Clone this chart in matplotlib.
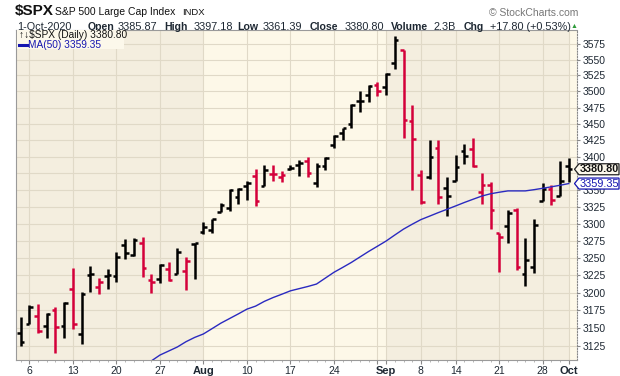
import numpy as np
import matplotlib.pyplot as plt
from matplotlib.patches import Polygon, Rectangle
from matplotlib.lines import Line2D
from matplotlib.ticker import FixedLocator, NullLocator, FuncFormatter

plt.rcParams['font.family'] = ['Liberation Sans', 'DejaVu Sans']

# daily bars, 2-Jul-2020 .. 1-Oct-2020
dates = ["2020-07-02", "2020-07-06", "2020-07-07", "2020-07-08", "2020-07-09", "2020-07-10",
         "2020-07-13", "2020-07-14", "2020-07-15", "2020-07-16", "2020-07-17",
         "2020-07-20", "2020-07-21", "2020-07-22", "2020-07-23", "2020-07-24",
         "2020-07-27", "2020-07-28", "2020-07-29", "2020-07-30", "2020-07-31",
         "2020-08-03", "2020-08-04", "2020-08-05", "2020-08-06", "2020-08-07",
         "2020-08-10", "2020-08-11", "2020-08-12", "2020-08-13", "2020-08-14",
         "2020-08-17", "2020-08-18", "2020-08-19", "2020-08-20", "2020-08-21",
         "2020-08-24", "2020-08-25", "2020-08-26", "2020-08-27", "2020-08-28",
         "2020-08-31", "2020-09-01", "2020-09-02", "2020-09-03", "2020-09-04",
         "2020-09-08", "2020-09-09", "2020-09-10", "2020-09-11",
         "2020-09-14", "2020-09-15", "2020-09-16", "2020-09-17", "2020-09-18",
         "2020-09-21", "2020-09-22", "2020-09-23", "2020-09-24", "2020-09-25",
         "2020-09-28", "2020-09-29", "2020-09-30", "2020-10-01"]

opens = [3143.64, 3155.29, 3166.44, 3153.07, 3176.17, 3152.47,
         3205.08, 3141.11, 3225.98, 3208.36, 3224.21,
         3224.29, 3268.52, 3254.86, 3271.64, 3218.58,
         3219.84, 3234.27, 3227.22, 3231.76, 3270.45,
         3288.26, 3289.92, 3317.37, 3323.17, 3340.05,
         3356.04, 3370.34, 3355.46, 3372.95, 3368.66,
         3380.86, 3387.04, 3392.51, 3360.48, 3386.01,
         3418.09, 3435.95, 3449.97, 3485.14, 3494.69,
         3509.73, 3507.44, 3543.76, 3564.74, 3453.60,
         3371.88, 3369.82, 3412.56, 3352.70,
         3363.56, 3407.73, 3411.23, 3346.86, 3357.38,
         3285.57, 3295.75, 3320.11, 3226.14, 3236.66,
         3333.90, 3350.92, 3341.21, 3385.87]

highs = [3165.81, 3182.59, 3184.15, 3171.80, 3179.78, 3186.82,
         3235.32, 3200.95, 3238.28, 3220.39, 3233.52,
         3258.61, 3277.29, 3279.32, 3279.99, 3227.26,
         3241.43, 3243.72, 3264.74, 3250.92, 3272.17,
         3302.73, 3306.84, 3330.77, 3351.03, 3352.54,
         3363.29, 3381.01, 3387.89, 3387.24, 3378.51,
         3387.59, 3395.06, 3399.54, 3390.80, 3399.96,
         3432.09, 3444.21, 3481.07, 3501.38, 3509.23,
         3514.77, 3528.03, 3588.11, 3564.85, 3479.15,
         3379.97, 3424.77, 3425.55, 3368.95,
         3402.93, 3419.48, 3428.92, 3375.17, 3362.27,
         3285.57, 3320.31, 3323.35, 3278.70, 3306.88,
         3360.74, 3357.92, 3393.56, 3397.18]

lows = [3124.52, 3155.29, 3142.93, 3136.53, 3115.70, 3136.22,
        3149.43, 3127.66, 3200.76, 3198.59, 3205.65,
        3215.16, 3247.77, 3253.10, 3222.66, 3200.05,
        3214.25, 3216.17, 3227.22, 3204.13, 3220.26,
        3284.53, 3286.37, 3317.37, 3318.14, 3328.72,
        3335.44, 3326.44, 3355.46, 3363.35, 3361.64,
        3379.22, 3370.15, 3369.66, 3354.69, 3379.31,
        3413.13, 3425.84, 3444.15, 3468.35, 3484.32,
        3493.25, 3494.60, 3535.23, 3427.41, 3349.63,
        3329.27, 3366.84, 3329.25, 3310.47,
        3363.56, 3389.25, 3384.45, 3328.82, 3292.40,
        3229.10, 3270.95, 3232.57, 3209.45, 3228.44,
        3332.91, 3327.54, 3340.47, 3361.39]

closes = [3130.01, 3179.72, 3145.32, 3169.94, 3152.05, 3185.04,
          3155.22, 3197.52, 3226.56, 3215.57, 3224.73,
          3251.84, 3257.30, 3276.02, 3235.66, 3215.63,
          3239.41, 3218.44, 3258.44, 3246.22, 3271.12,
          3294.61, 3306.51, 3327.77, 3349.16, 3351.28,
          3360.47, 3333.69, 3380.35, 3373.43, 3372.85,
          3381.99, 3389.78, 3374.85, 3385.51, 3397.16,
          3431.28, 3443.62, 3478.73, 3484.55, 3508.01,
          3500.31, 3526.65, 3580.84, 3455.06, 3426.96,
          3331.84, 3398.96, 3339.19, 3340.97,
          3383.54, 3401.20, 3385.49, 3357.01, 3319.47,
          3281.06, 3315.57, 3236.92, 3246.59, 3298.46,
          3351.60, 3335.47, 3363.00, 3380.80]

prev_close = 3115.86

# 50-day moving average (below the visible range before 24-Jul)
ma50 = [np.nan] * 15 + [
    3104.2, 3112.4, 3118.0, 3123.6, 3131.0, 3137.0,
    3141.8, 3149.3, 3156.9, 3163.4, 3169.9,
    3176.7, 3181.0, 3187.7, 3193.1, 3197.8,
    3202.7, 3205.8, 3208.9, 3212.4, 3220.8,
    3229.2, 3236.2, 3243.4, 3251.4, 3259.4,
    3266.9, 3274.5, 3283.3, 3291.9, 3299.1,
    3305.9, 3311.0, 3316.2, 3321.1,
    3326.1, 3331.2, 3336.0, 3340.7, 3344.1,
    3346.4, 3348.4, 3348.4, 3348.4, 3350.2,
    3352.3, 3354.5, 3356.8, 3359.35]

grid_dates = ["2020-07-06", "2020-07-13", "2020-07-20", "2020-07-27", "2020-08-03",
              "2020-08-10", "2020-08-17", "2020-08-24", "2020-08-31", "2020-09-01",
              "2020-09-08", "2020-09-14", "2020-09-21", "2020-09-28", "2020-10-01"]
grid_labels = ["6", "13", "20", "27", "Aug", "10", "17", "24", "", "Sep",
               "8", "14", "21", "28", "Oct"]
month_starts = ["2020-08-03", "2020-09-01", "2020-10-01"]

price_ticks = [3125, 3150, 3175, 3200, 3225, 3250, 3275, 3300, 3325, 3350,
               3375, 3400, 3425, 3450, 3475, 3500, 3525, 3550, 3575]
hidden_ticks = [3375]  # sits under the last-price tag

W, H = 620, 376
UP, DOWN = '#000000', '#D4003A'
BAND_DARK, BAND_LIGHT = '#F4EEDF', '#FDF8E8'
GRID = '#E0D9C7'
TXT = '#1E2833'
BLUE = '#2A2AC0'

fig = plt.figure(figsize=(W / 100, H / 100), dpi=100)
fig.patch.set_facecolor('white')
ax = fig.add_axes([16 / W, 1 - 360 / H, (577 - 16) / W, (360 - 30) / H])
ax.set_facecolor(BAND_DARK)

x = np.arange(len(dates))
ax.set_xlim(-0.54, len(dates) - 0.06)
ax.set_yscale('log')
ax.set_ylim(3105.6, 3597)

# alternate month shading (Aug, Oct lighter)
ms = [dates.index(d) for d in month_starts]
ax.axvspan(ms[0], ms[1], color=BAND_LIGHT, lw=0, zorder=0)
ax.axvspan(ms[2], len(dates) + 1, color=BAND_LIGHT, lw=0, zorder=0)

# OHLC bars
ref = [prev_close] + closes[:-1]
cols = [UP if c >= p else DOWN for c, p in zip(closes, ref)]
ax.vlines(x, lows, highs, colors=cols, lw=1.8, capstyle='butt', zorder=3)
ax.hlines(opens, x - 0.42, x, colors=cols, lw=1.8, capstyle='butt', zorder=3)
ax.hlines(closes, x, x + 0.42, colors=cols, lw=1.8, capstyle='butt', zorder=3)

ax.plot(x, ma50, color=BLUE, lw=1.0, zorder=4)

# axes styling
ax.yaxis.tick_right()
ax.yaxis.set_major_locator(FixedLocator(price_ticks))
ax.yaxis.set_minor_locator(NullLocator())
ax.yaxis.set_major_formatter(FuncFormatter(lambda v, p: "" if round(v) in hidden_ticks else f"{v:.0f}"))
ax.tick_params(axis='y', which='major', length=2, pad=2, labelsize=7.5,
               labelcolor=TXT, color='#888888')

gpos = [dates.index(d) for d in grid_dates]
ax.set_xticks(gpos)
ax.set_xticklabels(grid_labels)
ax.set_xticks(x, minor=True)
ax.tick_params(axis='x', which='major', length=3, pad=1.5, labelsize=7.5,
               labelcolor=TXT, color='#888888')
ax.tick_params(axis='x', which='minor', length=1.5, color='#aaaaaa')
for lab in ax.get_xticklabels():
    if lab.get_text() in ("Aug", "Sep", "Oct"):
        lab.set_fontweight('bold')
        lab.set_fontsize(8)

ax.grid(True, which='major', color=GRID, lw=0.8, zorder=1)
ax.set_axisbelow(True)
for side in ('left', 'top', 'bottom'):
    ax.spines[side].set_color('#9a9a9a')
    ax.spines[side].set_linewidth(0.8)
ax.spines['right'].set_color('#888888')
ax.spines['right'].set_linestyle((0, (1, 1.5)))
ax.spines['right'].set_linewidth(0.8)


def fx(px):
    return px / W


def fy(py):
    return 1 - py / H


# header
fig.text(fx(15), fy(11.5), "\\$SPX", fontsize=11, fontweight='bold', va='center', color='#111111')
fig.text(fx(55), fy(12), "S&P 500 Large Cap Index", fontsize=7.5, va='center', color='#111111')
fig.text(fx(182), fy(12.5), "INDX", fontsize=6.8, va='center', color='#111111')
fig.text(fx(578), fy(12.5), "© StockCharts.com", fontsize=7.5, ha='right', va='center', color='#777777')

header2 = [(17, "1-Oct-2020", False), (88, "Open", True), (117.5, "3385.87", False),
           (164.5, "High", True), (193.5, "3397.18", False), (237, "Low", True),
           (262.5, "3361.39", False), (309.5, "Close", True), (345, "3380.80", False),
           (391, "Volume", True), (433, "2.3B", False), (464, "Chg", True),
           (490, "+17.80 (+0.53%)", False)]
for hx, s, b in header2:
    fig.text(fx(hx), fy(26.5), s, fontsize=7.6 if b else 7.8, fontweight='bold' if b else 'normal',
             va='center', color=TXT)
fig.text(fx(571), fy(27), "▲", fontsize=5, va='center', color='#2E9B3A')

# legend block
fig.patches.append(Rectangle((fx(16.5), fy(49)), fx(124) - fx(16.5), fy(30.5) - fy(49),
                             transform=fig.transFigure, facecolor='#FCF8EB', edgecolor='none',
                             zorder=5))
fig.text(fx(19), fy(35.5), "↑↓\\$SPX (Daily) 3380.80", fontsize=7.3, va='center',
         color='#111111', zorder=6)
fig.lines.append(Line2D([fx(19), fx(27)], [fy(44.5), fy(44.5)], transform=fig.transFigure,
                        color='#1515B0', lw=2.2, zorder=6))
fig.text(fx(28.5), fy(44.5), "MA(50) 3359.35", fontsize=7.3, va='center', color='#1515B0', zorder=6)


# price tags on the right axis
def tag(value, text, edge, face, tcolor, bold):
    _, ypix = ax.transData.transform((0, value))
    yc = ypix / H
    hh = 5.5 / H
    pts = [(fx(574.5), yc), (fx(579), yc + hh), (fx(619), yc + hh),
           (fx(619), yc - hh), (fx(579), yc - hh)]
    fig.patches.append(Polygon(pts, closed=True, transform=fig.transFigure,
                               facecolor=face, edgecolor=edge, lw=0.9, zorder=7))
    fig.text(fx(599), yc, text, fontsize=7.8, ha='center', va='center', color=tcolor,
             fontweight='bold' if bold else 'normal', zorder=8)


tag(closes[-1], "3380.80", '#222222', '#FCF8EB', '#111111', True)
tag(ma50[-1], "3359.35", '#1515B0', 'white', '#1515B0', False)

fig.savefig("out.png", dpi=100)
